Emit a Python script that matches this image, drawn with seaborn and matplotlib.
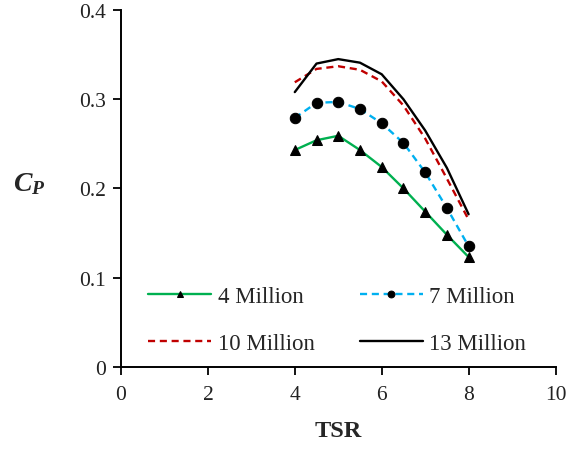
import matplotlib
matplotlib.use("Agg")
import matplotlib.pyplot as plt
import seaborn as sns
import pandas as pd

# Power coefficient against tip speed ratio for four Reynolds numbers
tsr = [4.0, 4.5, 5.0, 5.5, 6.0, 6.5, 7.0, 7.5, 8.0]
cp_4m = [0.243, 0.254, 0.259, 0.243, 0.224, 0.200, 0.174, 0.148, 0.123]
cp_7m = [0.279, 0.296, 0.297, 0.289, 0.273, 0.251, 0.218, 0.178, 0.135]
cp_10m = [0.319, 0.334, 0.337, 0.333, 0.320, 0.293, 0.256, 0.211, 0.165]
cp_13m = [0.308, 0.340, 0.345, 0.341, 0.328, 0.300, 0.265, 0.223, 0.171]
labels = ["4 Million", "7 Million", "10 Million", "13 Million"]

x_ticks = [0, 2, 4, 6, 8, 10]
y_ticks = [0, 0.1, 0.2, 0.3, 0.4]
y_tick_labels = ["0", "0.1", "0.2", "0.3", "0.4"]

sns.set_theme(style="ticks")
plt.rcParams["font.family"] = ["Liberation Serif", "DejaVu Serif"]
plt.rcParams["mathtext.fontset"] = "custom"
plt.rcParams["mathtext.it"] = "Liberation Serif:italic:bold"
plt.rcParams["mathtext.rm"] = "Liberation Serif:bold"

fig = plt.figure(figsize=(5.68, 4.52), dpi=100)
ax = fig.add_axes([0.213, 0.1865, 0.765, 0.789])

styles = [
    dict(color="#00B050", linestyle="-", marker="^", markersize=7.5),
    dict(color="#00B0F0", linestyle=(0, (3, 2)), marker="o", markersize=7.5),
    dict(color="#C00000", linestyle=(0, (3, 2)), marker=None, markersize=0),
    dict(color="#000000", linestyle="-", marker=None, markersize=0),
]
series = [cp_4m, cp_7m, cp_10m, cp_13m]

lines = []
for vals, lab, st in zip(series, labels, styles):
    df = pd.DataFrame({"TSR": tsr, "Cp": vals})
    sns.lineplot(data=df, x="TSR", y="Cp", ax=ax, color=st["color"],
                 linestyle=st["linestyle"], linewidth=1.7,
                 marker=st["marker"], markersize=st["markersize"],
                 markerfacecolor="black", markeredgecolor="black",
                 label=lab, legend=False)
    lines.append(ax.lines[-1])

ax.set_xlim(0, 10)
ax.set_ylim(0, 0.4)
ax.set_xticks(x_ticks)
ax.set_yticks(y_ticks)
ax.set_yticklabels(y_tick_labels)
ax.tick_params(axis="both", direction="out", length=6, width=1.3,
               labelsize=15.5, color="black", labelcolor="#222222")
ax.tick_params(axis="x", pad=7)
ax.tick_params(axis="y", pad=5)

for side in ["top", "right"]:
    ax.spines[side].set_visible(False)
for side in ["left", "bottom"]:
    ax.spines[side].set_linewidth(1.4)
    ax.spines[side].set_color("black")

ax.set_xlabel("TSR", fontsize=17.5, fontweight="bold", labelpad=12)
ax.set_ylabel(r"$C_P$", fontsize=20, rotation=0, va="center")
ax.yaxis.set_label_coords(-0.212, 0.515)

order = [0, 2, 1, 3]
leg = ax.legend([lines[i] for i in order], [labels[i] for i in order],
                ncol=2, frameon=False, fontsize=16.5, handlelength=2.75,
                handletextpad=0.3, columnspacing=1.95, labelspacing=1.12,
                markerscale=0.65,
                loc="lower left", bbox_to_anchor=(0.015, -0.022))

fig.savefig("out.png", dpi=100)
